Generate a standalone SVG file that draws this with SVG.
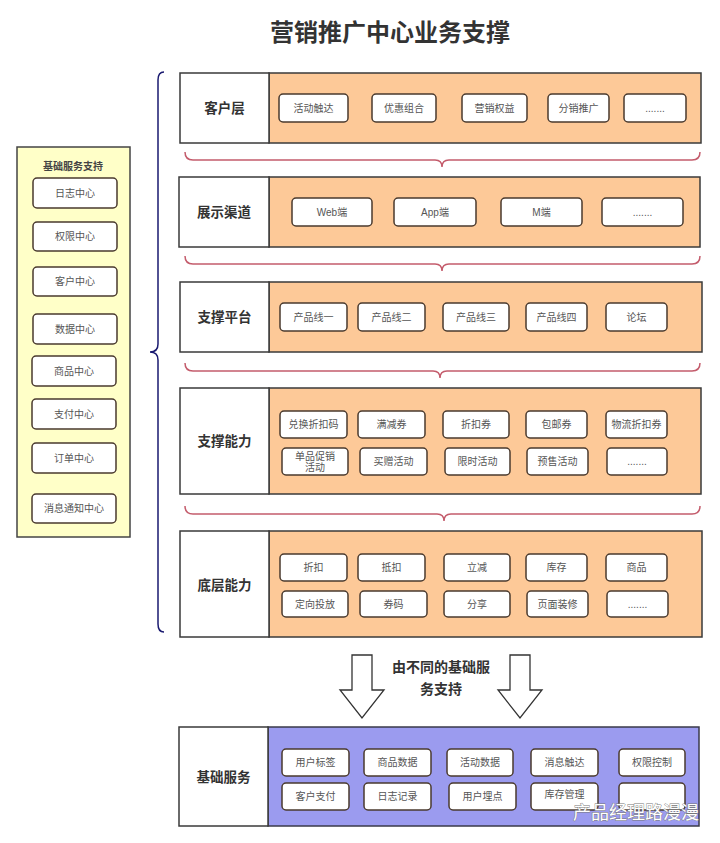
<svg xmlns="http://www.w3.org/2000/svg" width="720" height="843" viewBox="0 0 720 843">
<style>
text{font-family:"Liberation Sans","Noto Sans CJK SC",sans-serif;text-anchor:middle;dominant-baseline:central}
.title{font-size:24px;font-weight:bold;fill:#333}
.lbl{font-size:13.5px;font-weight:bold;fill:#333}
.it{font-size:10px;fill:#555}
.lbox{fill:#fff;stroke:#3a3a3a;stroke-width:1.5}
.org{fill:#FDC998;stroke:#3a3a3a;stroke-width:1.5}
.blu{fill:#9B9BEF;stroke:#3a3a4a;stroke-width:1.5}
.box{fill:#fff;stroke:#4a3a2e;stroke-width:1.5}
.hb{fill:none;stroke:#C45C6C;stroke-width:1.5}
.vb{fill:none;stroke:#1A1A70;stroke-width:1.5}
.arr{fill:#fff;stroke:#333;stroke-width:1.3}
</style>
<rect width="720" height="843" fill="#fff"/>
<text class="title" x="390" y="32">营销推广中心业务支撑</text>

<g id="left-panel">
<rect x="17" y="147" width="113" height="390" fill="#FFFFC8" stroke="#444" stroke-width="1.5"/>
<text x="73" y="166" style="font-size:10px;font-weight:bold;fill:#444">基础服务支持</text>
<rect class="box" x="33" y="178" width="84" height="30" rx="4"/><text class="it" x="75" y="193">日志中心</text>
<rect class="box" x="33" y="222" width="84" height="29" rx="4"/><text class="it" x="75" y="236.5">权限中心</text>
<rect class="box" x="33" y="267" width="84" height="29" rx="4"/><text class="it" x="75" y="281.5">客户中心</text>
<rect class="box" x="33" y="314" width="84" height="30" rx="4"/><text class="it" x="75" y="329">数据中心</text>
<rect class="box" x="32" y="356" width="84" height="30" rx="4"/><text class="it" x="74" y="371">商品中心</text>
<rect class="box" x="32" y="399" width="84" height="30" rx="4"/><text class="it" x="74" y="414">支付中心</text>
<rect class="box" x="32" y="443" width="84" height="30" rx="4"/><text class="it" x="74" y="458">订单中心</text>
<rect class="box" x="32" y="494" width="84" height="29" rx="4"/><text class="it" x="74" y="508.5">消息通知中心</text>
</g>

<g id="connectors">
<path class="vb" d="M164,72 Q158,72 158,80 V344 Q158,352 150,352 Q158,352 158,360 V624 Q158,632 164,632"/>
<path class="hb" d="M185,152 Q185,160 193,160 H435 Q442,160 442,167 Q442,160 449,160 H692 Q700,160 700,152"/>
<path class="hb" d="M185,256 Q185,264 193,264 H435 Q442,264 442,271 Q442,264 449,264 H692 Q700,264 700,256"/>
<path class="hb" d="M185,363 Q185,371 193,371 H433 Q440,371 440,378 Q440,371 447,371 H692 Q700,371 700,363"/>
<path class="hb" d="M185,506 Q185,514 193,514 H437 Q444,514 444,521 Q444,514 451,514 H692 Q700,514 700,506"/>
<path class="arr" d="M352,655 H372 V690 H384 L362,718 L340,690 H352 Z"/>
<path class="arr" d="M510,655 H530 V690 H542 L520,718 L498,690 H510 Z"/>
<text x="441" y="667" style="font-size:14px;font-weight:bold;fill:#333">由不同的基础服</text>
<text x="441" y="689" style="font-size:14px;font-weight:bold;fill:#333">务支持</text>
</g>

<g id="layer-customer">
<rect class="org" x="269" y="73" width="432" height="70"/>
<rect class="lbox" x="180" y="73" width="89" height="70"/>
<text class="lbl" x="224.5" y="108">客户层</text>
<rect class="box" x="279" y="94" width="69" height="28" rx="4"/><text class="it" x="313.5" y="108">活动触达</text>
<rect class="box" x="372" y="94" width="64" height="28" rx="4"/><text class="it" x="404" y="108">优惠组合</text>
<rect class="box" x="462" y="94" width="65" height="28" rx="4"/><text class="it" x="494.5" y="108">营销权益</text>
<rect class="box" x="548" y="94" width="61" height="28" rx="4"/><text class="it" x="578.5" y="108">分销推广</text>
<rect class="box" x="624" y="94" width="62" height="28" rx="4"/><text class="it" x="655" y="108">.......</text>
</g>

<g id="layer-channel">
<rect class="org" x="269" y="177" width="431" height="70"/>
<rect class="lbox" x="179" y="177" width="90" height="70"/>
<text class="lbl" x="224" y="212">展示渠道</text>
<rect class="box" x="292" y="198" width="80" height="28" rx="4"/><text class="it" x="332" y="212">Web端</text>
<rect class="box" x="394" y="198" width="82" height="28" rx="4"/><text class="it" x="435" y="212">App端</text>
<rect class="box" x="501" y="198" width="81" height="28" rx="4"/><text class="it" x="541.5" y="212">M端</text>
<rect class="box" x="602" y="198" width="81" height="28" rx="4"/><text class="it" x="642.5" y="212">.......</text>
</g>

<g id="layer-platform">
<rect class="org" x="269" y="282" width="433" height="70"/>
<rect class="lbox" x="180" y="282" width="89" height="70"/>
<text class="lbl" x="224.5" y="317">支撑平台</text>
<rect class="box" x="280" y="303" width="67" height="28" rx="4"/><text class="it" x="313.5" y="317">产品线一</text>
<rect class="box" x="358" y="303" width="67" height="28" rx="4"/><text class="it" x="391.5" y="317">产品线二</text>
<rect class="box" x="443" y="303" width="66" height="28" rx="4"/><text class="it" x="476" y="317">产品线三</text>
<rect class="box" x="526" y="303" width="61" height="28" rx="4"/><text class="it" x="556.5" y="317">产品线四</text>
<rect class="box" x="606" y="303" width="61" height="28" rx="4"/><text class="it" x="636.5" y="317">论坛</text>
</g>

<g id="layer-ability">
<rect class="org" x="269" y="388" width="432" height="106"/>
<rect class="lbox" x="180" y="388" width="89" height="106"/>
<text class="lbl" x="224.5" y="441">支撑能力</text>
<rect class="box" x="280" y="411" width="67" height="27" rx="4"/><text class="it" x="313.5" y="424.5">兑换折扣码</text>
<rect class="box" x="358" y="411" width="67" height="27" rx="4"/><text class="it" x="391.5" y="424.5">满减券</text>
<rect class="box" x="443" y="411" width="66" height="27" rx="4"/><text class="it" x="476" y="424.5">折扣券</text>
<rect class="box" x="526" y="411" width="61" height="27" rx="4"/><text class="it" x="556.5" y="424.5">包邮券</text>
<rect class="box" x="606" y="411" width="61" height="27" rx="4"/><text class="it" x="636.5" y="424.5">物流折扣券</text>
<rect class="box" x="282" y="448" width="66" height="27" rx="4"/><text class="it" x="315" y="456">单品促销</text><text class="it" x="315" y="467">活动</text>
<rect class="box" x="360" y="448" width="67" height="27" rx="4"/><text class="it" x="393.5" y="461.5">买赠活动</text>
<rect class="box" x="445" y="448" width="65" height="27" rx="4"/><text class="it" x="477.5" y="461.5">限时活动</text>
<rect class="box" x="527" y="448" width="61" height="27" rx="4"/><text class="it" x="557.5" y="461.5">预售活动</text>
<rect class="box" x="607" y="448" width="60" height="27" rx="4"/><text class="it" x="637" y="461.5">.......</text>
</g>

<g id="layer-base">
<rect class="org" x="269" y="531" width="433" height="106"/>
<rect class="lbox" x="180" y="531" width="89" height="106"/>
<text class="lbl" x="224.5" y="585">底层能力</text>
<rect class="box" x="280" y="554" width="67" height="27" rx="4"/><text class="it" x="313.5" y="567.5">折扣</text>
<rect class="box" x="358" y="554" width="67" height="27" rx="4"/><text class="it" x="391.5" y="567.5">抵扣</text>
<rect class="box" x="444" y="554" width="66" height="27" rx="4"/><text class="it" x="477" y="567.5">立减</text>
<rect class="box" x="526" y="554" width="61" height="27" rx="4"/><text class="it" x="556.5" y="567.5">库存</text>
<rect class="box" x="606" y="554" width="61" height="27" rx="4"/><text class="it" x="636.5" y="567.5">商品</text>
<rect class="box" x="282" y="591" width="66" height="26" rx="4"/><text class="it" x="315" y="604">定向投放</text>
<rect class="box" x="360" y="591" width="67" height="26" rx="4"/><text class="it" x="393.5" y="604">券码</text>
<rect class="box" x="444" y="591" width="66" height="26" rx="4"/><text class="it" x="477" y="604">分享</text>
<rect class="box" x="527" y="591" width="61" height="26" rx="4"/><text class="it" x="557.5" y="604">页面装修</text>
<rect class="box" x="607" y="591" width="61" height="26" rx="4"/><text class="it" x="637.5" y="604">.......</text>
</g>

<g id="layer-foundation">
<rect class="blu" x="268" y="727" width="431" height="99"/>
<rect class="lbox" x="179" y="727" width="89" height="99"/>
<text class="lbl" x="223.5" y="777">基础服务</text>
<rect class="box" x="282" y="749" width="67" height="27" rx="4"/><text class="it" x="315.5" y="762.5">用户标签</text>
<rect class="box" x="364" y="749" width="67" height="27" rx="4"/><text class="it" x="397.5" y="762.5">商品数据</text>
<rect class="box" x="447" y="749" width="66" height="27" rx="4"/><text class="it" x="480" y="762.5">活动数据</text>
<rect class="box" x="531" y="749" width="67" height="27" rx="4"/><text class="it" x="564.5" y="762.5">消息触达</text>
<rect class="box" x="619" y="749" width="66" height="27" rx="4"/><text class="it" x="652" y="762.5">权限控制</text>
<rect class="box" x="282" y="783" width="67" height="27" rx="4"/><text class="it" x="315.5" y="796.5">客户支付</text>
<rect class="box" x="364" y="783" width="67" height="27" rx="4"/><text class="it" x="397.5" y="796.5">日志记录</text>
<rect class="box" x="449" y="783" width="67" height="27" rx="4"/><text class="it" x="482.5" y="796.5">用户埋点</text>
<rect class="box" x="531" y="783" width="67" height="27" rx="4"/><text class="it" x="564.5" y="794">库存管理</text>
<rect class="box" x="619" y="783" width="66" height="27" rx="4"/>
</g>

<g id="watermark">
<text x="636" y="813" style="font-size:18px;fill:#fff;stroke:#777;stroke-width:0.8;paint-order:stroke">产品经理路漫漫</text>
</g>
</svg>
